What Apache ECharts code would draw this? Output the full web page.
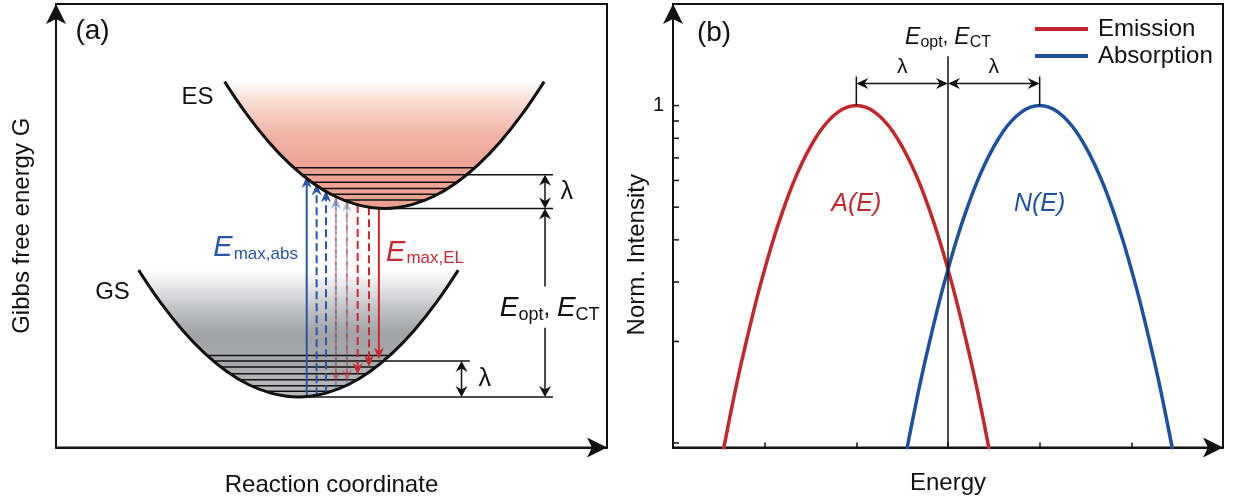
<!DOCTYPE html>
<html>
<head>
<meta charset="utf-8">
<script src="https://cdn.jsdelivr.net/npm/echarts@6/dist/echarts.min.js"></script>
<style>
  html, body { margin: 0; padding: 0; background: #fff; }
  #chart { width: 1238px; height: 503px; }
</style>
</head>
<body>
<div id="chart"></div>
<script>
// ---------- Panel (a): free-energy wells (reaction coordinate q vs. G, arbitrary units 0-100)
const gsQ = [15, 19, 23, 27, 31, 35, 39, 42, 44, 46, 49, 53, 57, 61, 65, 69, 73];
const gsG = [40.0, 32.65, 26.39, 21.23, 17.15, 14.15, 12.25, 11.54, 11.4, 11.54, 12.25, 14.15, 17.15, 21.23, 26.39, 32.65, 40.0];
const esQ = [30.6, 34.6, 38.6, 42.6, 46.6, 50.6, 54.6, 57.6, 59.6, 61.6, 64.6, 68.6, 72.6, 76.6, 80.6, 84.6, 88.6];
const esG = [82.5, 75.15, 68.89, 63.73, 59.65, 56.65, 54.75, 54.04, 53.9, 54.04, 54.75, 56.65, 59.65, 63.73, 68.89, 75.15, 82.5];

// vibrational levels inside each well
const esLevels = [63.1, 61.5, 59.8, 58.4, 57.1, 55.8];
const gsLevels = [20.77, 19.48, 18.13, 16.64, 15.28, 13.93, 12.71];

// well minima
const esMinQ = 59.6, esMinG = 53.9;
const gsMinQ = 44.0, gsMinG = 11.4;

// guide lines running right of the wells: [G, q where the line ends]
const esGuides = [[61.5, 90.2], [53.9, 90.2]];
const gsGuides = [[19.48, 75.1], [11.4, 90.2]];

// absorption (upward) and emission (downward) transitions
const absQ = [45.5, 47.3, 49.0, 50.8, 52.8];
const absFrom = [11.48, 11.77, 12.25, 12.97, 14.03];
const absTo = [61.2, 59.5, 58.0, 56.5, 55.8];
const absAlpha = [1, 1, 1, 0.5, 0.32];
const emQ = [50.8, 52.8, 54.75, 56.8, 58.6];
const emFrom = [56.53, 55.47, 54.7, 54.17, 53.93];
const emTo = [14.67, 14.9, 16.37, 18.17, 19.86];
const emAlpha = [0.4, 0.5, 1, 1, 1];

// ---------- Panel (b): normalised spectra on a log intensity axis
const emE = [0.4, 0.5, 0.6, 0.7, 0.8, 0.9, 1.0, 1.1, 1.2, 1.3, 1.4, 1.5, 1.6, 1.7, 1.8, 1.9, 2.0,
             2.1, 2.2, 2.3, 2.4, 2.5, 2.6, 2.7, 2.8, 2.9, 3.0, 3.1, 3.2, 3.3, 3.4, 3.5, 3.6];
const emission = [0.057, 0.081, 0.112, 0.152, 0.200, 0.259, 0.327, 0.405, 0.489, 0.579, 0.669, 0.756, 0.837, 0.904, 0.956, 0.989, 1,
                  0.989, 0.956, 0.904, 0.837, 0.756, 0.669, 0.579, 0.489, 0.405, 0.327, 0.259, 0.200, 0.152, 0.112, 0.081, 0.057];
const absE = [2.4, 2.5, 2.6, 2.7, 2.8, 2.9, 3.0, 3.1, 3.2, 3.3, 3.4, 3.5, 3.6, 3.7, 3.8, 3.9, 4.0,
              4.1, 4.2, 4.3, 4.4, 4.5, 4.6, 4.7, 4.8, 4.9, 5.0, 5.1, 5.2, 5.3, 5.4, 5.5, 5.6];
const absorption = [0.057, 0.081, 0.112, 0.152, 0.200, 0.259, 0.327, 0.405, 0.489, 0.579, 0.669, 0.756, 0.837, 0.904, 0.956, 0.989, 1,
                    0.989, 0.956, 0.904, 0.837, 0.756, 0.669, 0.579, 0.489, 0.405, 0.327, 0.259, 0.200, 0.152, 0.112, 0.081, 0.057];
const intensityTicks = [0.1, 0.2, 0.3, 0.4, 0.5, 0.6, 0.7, 0.8, 0.9, 1];
const emPeakE = 2, absPeakE = 4, optE = 3;

// ---------- styling
const FONT = '"Liberation Sans", Arial, Helvetica, sans-serif';
const INK = '#111111';
const RED = '#c1272d', BLUE = '#1f4f9f';
const RED_T = '#c62a30', BLUE_T = '#2a55a5';

// annotation heights (intensity units) for panel (b)
const LAM_ROW = 1.162, STUB_TOP = 1.22, OPT_TOP = 1.40, LAM_LABEL = 1.30, OPT_LABEL = 1.59, NAME_LABEL = 0.51;
const Y_MIN = 0.097, Y_MAX = 2.0;

function wallsAt(qs, gs, g) {
  let left = null, right = null;
  for (let i = 0; i < qs.length - 1; i++) {
    const g1 = gs[i], g2 = gs[i + 1];
    if ((g1 - g) * (g2 - g) <= 0 && g1 !== g2) {
      const qx = qs[i] + (g - g1) / (g2 - g1) * (qs[i + 1] - qs[i]);
      if (left === null) left = qx; else right = qx;
    }
  }
  return [left, right];
}

function seg(a, b, stroke, width, dash, opacity) {
  return { type: 'line', shape: { x1: a[0], y1: a[1], x2: b[0], y2: b[1] },
    style: { stroke: stroke, lineWidth: width, lineDash: dash || null, opacity: opacity == null ? 1 : opacity } };
}

// concave arrow head with its tip at `tip`, pointing away from `from`
function head(tip, from, len, half, fill, opacity) {
  const dx = tip[0] - from[0], dy = tip[1] - from[1], L = Math.hypot(dx, dy);
  const ux = dx / L, uy = dy / L, nx = -uy, ny = ux;
  const bx = tip[0] - ux * len, by = tip[1] - uy * len;
  const mx = tip[0] - ux * len * 0.68, my = tip[1] - uy * len * 0.68;
  return { type: 'polygon', shape: { points: [tip, [bx + nx * half, by + ny * half], [mx, my], [bx - nx * half, by - ny * half]] },
    style: { fill: fill, opacity: opacity == null ? 1 : opacity } };
}
function back(tip, from, d) {
  const dx = tip[0] - from[0], dy = tip[1] - from[1], L = Math.hypot(dx, dy);
  return [tip[0] - dx / L * d, tip[1] - dy / L * d];
}
// single-headed arrow a -> b
function arrow(a, b, color, width, dash, opacity, len, half) {
  return [seg(a, back(b, a, len * 0.6), color, width, dash, opacity), head(b, a, len, half, color, opacity)];
}
// double-headed arrow between a and b
function dimArrow(a, b, color, width, len, half) {
  return [seg(back(a, b, len * 0.6), back(b, a, len * 0.6), color, width),
          head(a, b, len, half, color), head(b, a, len, half, color)];
}

const esFill = new echarts.graphic.LinearGradient(0, 0, 0, 1, [
  { offset: 0, color: '#ffffff' }, { offset: 0.12, color: '#fbe3db' },
  { offset: 0.4, color: '#f1b7a7' }, { offset: 0.65, color: '#eea594' }, { offset: 1, color: '#eca28f' }]);
const gsFill = new echarts.graphic.LinearGradient(0, 0, 0, 1, [
  { offset: 0, color: '#ffffff' }, { offset: 0.1, color: '#ececed' },
  { offset: 0.32, color: '#bfc0c3' }, { offset: 0.5, color: '#a2a3a7' },
  { offset: 0.68, color: '#a7a8ab' }, { offset: 1, color: '#bbbbbe' }]);

const wells = [
  { q: esQ, g: esG, levels: esLevels, fill: esFill },
  { q: gsQ, g: gsG, levels: gsLevels, fill: gsFill }
];

const chart = echarts.init(document.getElementById('chart'), null, { renderer: 'canvas' });

const axisLineArrow = (w) => ({
  onZero: false, symbol: ['none', 'arrow'], symbolSize: [15, 20], symbolOffset: [0, 0],
  lineStyle: { color: INK, width: w }
});
const nameStyle = { fontSize: 24, color: INK, fontFamily: FONT };

const option = {
  animation: false,
  backgroundColor: '#ffffff',
  textStyle: { fontFamily: FONT },
  grid: [
    { left: 56, top: 4, width: 551, height: 443.5, show: true, borderColor: INK, borderWidth: 2, backgroundColor: 'transparent' },
    { left: 673, top: 4, width: 550, height: 443.5, show: true, borderColor: INK, borderWidth: 2, backgroundColor: 'transparent' }
  ],
  legend: {
    data: ['Emission', 'Absorption'], orient: 'vertical', left: 1030, top: 12,
    icon: 'rect', itemWidth: 53, itemHeight: 4, itemGap: 3, selectedMode: false,
    textStyle: { fontSize: 24, color: INK, fontFamily: FONT, padding: [0, 0, 0, 5] }
  },
  xAxis: [
    { gridIndex: 0, type: 'value', min: 0, max: 100, name: 'Reaction coordinate', nameLocation: 'middle', nameGap: 26,
      nameTextStyle: nameStyle, axisLine: axisLineArrow(2), axisTick: { show: false }, axisLabel: { show: false }, splitLine: { show: false } },
    { gridIndex: 1, type: 'value', min: 0, max: 6, interval: 1, name: 'Energy', nameLocation: 'middle', nameGap: 24,
      nameTextStyle: nameStyle, axisLine: axisLineArrow(2),
      axisTick: { show: true, inside: true, length: 5, lineStyle: { color: INK, width: 1.5 } },
      axisLabel: { show: false }, splitLine: { show: false } }
  ],
  yAxis: [
    { gridIndex: 0, type: 'value', min: 0, max: 100, name: 'Gibbs free energy G', nameLocation: 'middle', nameGap: 22,
      nameTextStyle: nameStyle, axisLine: axisLineArrow(2), axisTick: { show: false }, axisLabel: { show: false }, splitLine: { show: false } },
    { gridIndex: 1, type: 'log', logBase: 10, min: Y_MIN, max: Y_MAX, name: 'Norm. Intensity', nameLocation: 'middle', nameGap: 17,
      nameTextStyle: Object.assign({}, nameStyle, { padding: [0, 58, 0, 0] }),
      axisLine: axisLineArrow(2), axisTick: { show: false }, splitLine: { show: false },
      axisLabel: { fontSize: 20, color: INK, margin: 9, formatter: v => (Math.abs(v - 1) < 1e-6 ? '1' : '') } }
  ],
  graphic: [
    { type: 'text', x: 92.5, y: 31.5, style: { text: '(a)', fontSize: 28, fontFamily: FONT, fill: INK, align: 'center', verticalAlign: 'middle' } },
    { type: 'text', x: 714, y: 33, style: { text: '(b)', fontSize: 28, fontFamily: FONT, fill: INK, align: 'center', verticalAlign: 'middle' } },
    { type: 'text', x: 197.5, y: 97, style: { text: 'ES', fontSize: 24, fontFamily: FONT, fill: INK, align: 'center', verticalAlign: 'middle' } },
    { type: 'text', x: 112.5, y: 292, style: { text: 'GS', fontSize: 24, fontFamily: FONT, fill: INK, align: 'center', verticalAlign: 'middle' } }
  ],
  series: [
    // well fills and vibrational levels
    { type: 'custom', xAxisIndex: 0, yAxisIndex: 0, z: 1, data: [[0, 0], [1, 0]], silent: true,
      renderItem: (params, api) => {
        const w = wells[params.dataIndex];
        const pts = w.q.map((q, i) => api.coord([q, w.g[i]]));
        const children = [{ type: 'polygon', shape: { points: pts }, style: { fill: w.fill } }];
        w.levels.forEach(g => {
          const lr = wallsAt(w.q, w.g, g);
          children.push(seg(api.coord([lr[0], g]), api.coord([lr[1], g]), INK, 1.5));
        });
        return { type: 'group', children: children };
      } },
    // guide lines to the right of the wells
    { type: 'custom', xAxisIndex: 0, yAxisIndex: 0, z: 2, data: [[0, 0]], silent: true,
      renderItem: (params, api) => {
        const children = [];
        esGuides.forEach(([g, qEnd]) => {
          const start = g <= esMinG ? esMinQ : wallsAt(esQ, esG, g)[1];
          children.push(seg(api.coord([start, g]), api.coord([qEnd, g]), INK, 1.5));
        });
        gsGuides.forEach(([g, qEnd]) => {
          const start = g <= gsMinG ? gsMinQ : wallsAt(gsQ, gsG, g)[1];
          children.push(seg(api.coord([start, g]), api.coord([qEnd, g]), INK, 1.5));
        });
        return { type: 'group', children: children };
      } },
    // vertical transitions
    { type: 'custom', xAxisIndex: 0, yAxisIndex: 0, z: 3, data: [[0, 0]], silent: true,
      renderItem: (params, api) => {
        let children = [];
        absQ.forEach((q, i) => {
          const dash = i === 0 ? null : [8, 4];
          children = children.concat(arrow(api.coord([q, absFrom[i]]), api.coord([q, absTo[i]]), BLUE_T, 2, dash, absAlpha[i], 12, 5));
        });
        emQ.forEach((q, i) => {
          const dash = i === emQ.length - 1 ? null : [8, 4];
          children = children.concat(arrow(api.coord([q, emFrom[i]]), api.coord([q, emTo[i]]), RED_T, 2, dash, emAlpha[i], 12, 5));
        });
        return { type: 'group', children: children };
      } },
    // well outlines
    { type: 'custom', xAxisIndex: 0, yAxisIndex: 0, z: 4, data: [[0, 0], [1, 0]], silent: true,
      renderItem: (params, api) => {
        const w = wells[params.dataIndex];
        const pts = w.q.map((q, i) => api.coord([q, w.g[i]]));
        return { type: 'polyline', shape: { points: pts, smooth: 0.4 }, style: { stroke: INK, lineWidth: 3, fill: null } };
      } },
    // dimension arrows and labels of panel (a)
    { type: 'custom', xAxisIndex: 0, yAxisIndex: 0, z: 5, data: [[0, 0]], silent: true,
      renderItem: (params, api) => {
        const c = (q, g) => api.coord([q, g]);
        let ch = [];
        ch = ch.concat(dimArrow(c(88.75, 61.5), c(88.75, esMinG), INK, 1.5, 11, 6));
        // E_opt arrow, split around its label
        const top = c(88.75, esMinG), bot = c(88.75, gsMinG);
        const gapTop = c(88.75, 36.3), gapBot = c(88.75, 27.0);
        ch.push(seg(back(top, bot, 6.6), gapTop, INK, 1.5), head(top, bot, 11, 6, INK));
        ch.push(seg(gapBot, back(bot, top, 6.6), INK, 1.5), head(bot, top, 11, 6, INK));
        ch = ch.concat(dimArrow(c(73.6, 19.48), c(73.6, gsMinG), INK, 1.5, 11, 6));
        const lam = (p, size) => ({ type: 'text', x: p[0], y: p[1],
          style: { text: 'λ', fontSize: size, fontFamily: FONT, fill: INK, align: 'center', verticalAlign: 'middle' } });
        ch.push(lam(c(92.7, 57.6), 25), lam(c(77.8, 15.4), 25));
        const pOpt = c(89.6, 31.3);
        ch.push({ type: 'text', x: pOpt[0], y: pOpt[1], style: {
          text: '{e|E}{s|opt}{c|, }{e|E}{s|CT}', align: 'center', verticalAlign: 'middle',
          rich: { e: { fontSize: 28, fontStyle: 'italic', fontFamily: FONT, fill: INK },
                  s: { fontSize: 18, fontFamily: FONT, fill: INK, padding: [12, 0, 0, 0] },
                  c: { fontSize: 24, fontFamily: FONT, fill: INK } } } });
        const pAbs = c(43.9, 44.9);
        ch.push({ type: 'text', x: pAbs[0], y: pAbs[1], style: {
          text: '{e|E}{s|max,abs}', align: 'right', verticalAlign: 'middle',
          rich: { e: { fontSize: 29, fontStyle: 'italic', fontFamily: FONT, fill: BLUE_T },
                  s: { fontSize: 17, fontFamily: FONT, fill: BLUE_T, padding: [12, 0, 0, 1] } } } });
        const pEl = c(59.9, 43.9);
        ch.push({ type: 'text', x: pEl[0], y: pEl[1], style: {
          text: '{e|E}{s|max,EL}', align: 'left', verticalAlign: 'middle',
          rich: { e: { fontSize: 29, fontStyle: 'italic', fontFamily: FONT, fill: RED_T },
                  s: { fontSize: 17, fontFamily: FONT, fill: RED_T, padding: [12, 0, 0, 1] } } } });
        return { type: 'group', children: ch };
      } },
    // spectra
    { type: 'line', name: 'Emission', xAxisIndex: 1, yAxisIndex: 1, z: 3,
      data: emE.map((e, i) => [e, emission[i]]), smooth: 0.3, showSymbol: false, symbol: 'none',
      lineStyle: { color: RED, width: 3.5 }, itemStyle: { color: RED }, clip: true },
    { type: 'line', name: 'Absorption', xAxisIndex: 1, yAxisIndex: 1, z: 3,
      data: absE.map((e, i) => [e, absorption[i]]), smooth: 0.3, showSymbol: false, symbol: 'none',
      lineStyle: { color: BLUE, width: 3.5 }, itemStyle: { color: BLUE }, clip: true },
    // intensity ticks, E_opt marker, λ spacings and labels of panel (b)
    { type: 'custom', xAxisIndex: 1, yAxisIndex: 1, z: 4, data: [[optE, 1]], silent: true,
      renderItem: (params, api) => {
        const c = (e, v) => api.coord([e, v]);
        let ch = [];
        intensityTicks.forEach(v => { const p = c(0, v); ch.push(seg(p, [p[0] + 6, p[1]], INK, 1.5)); });
        ch.push(seg(c(optE, Y_MIN), c(optE, OPT_TOP), INK, 1.5));
        ch.push(seg(c(emPeakE, 1), c(emPeakE, STUB_TOP), INK, 1.5));
        ch.push(seg(c(absPeakE, 1), c(absPeakE, STUB_TOP), INK, 1.5));
        ch = ch.concat(dimArrow(c(emPeakE, LAM_ROW), c(optE, LAM_ROW), INK, 1.5, 12, 5.5));
        ch = ch.concat(dimArrow(c(optE, LAM_ROW), c(absPeakE, LAM_ROW), INK, 1.5, 12, 5.5));
        [(emPeakE + optE) / 2, (optE + absPeakE) / 2].forEach(e => {
          const p = c(e, LAM_LABEL);
          ch.push({ type: 'text', x: p[0], y: p[1], style: { text: 'λ', fontSize: 21, fontFamily: FONT, fill: INK, align: 'center', verticalAlign: 'middle' } });
        });
        const po = c(optE, OPT_LABEL);
        ch.push({ type: 'text', x: po[0], y: po[1], style: {
          text: '{e|E}{s|opt}{c|, }{e|E}{s|CT}', align: 'center', verticalAlign: 'middle',
          rich: { e: { fontSize: 23, fontStyle: 'italic', fontFamily: FONT, fill: INK },
                  s: { fontSize: 16, fontFamily: FONT, fill: INK, padding: [9, 0, 0, 0] },
                  c: { fontSize: 21, fontFamily: FONT, fill: INK } } } });
        const pa = c(emPeakE, NAME_LABEL), pn = c(absPeakE, NAME_LABEL);
        ch.push({ type: 'text', x: pa[0], y: pa[1], style: { text: 'A(E)', fontSize: 25, fontStyle: 'italic', fontFamily: FONT, fill: RED, align: 'center', verticalAlign: 'middle' } });
        ch.push({ type: 'text', x: pn[0], y: pn[1], style: { text: 'N(E)', fontSize: 25, fontStyle: 'italic', fontFamily: FONT, fill: BLUE, align: 'center', verticalAlign: 'middle' } });
        return { type: 'group', children: ch };
      } }
  ]
};
chart.setOption(option);
</script>
</body>
</html>
